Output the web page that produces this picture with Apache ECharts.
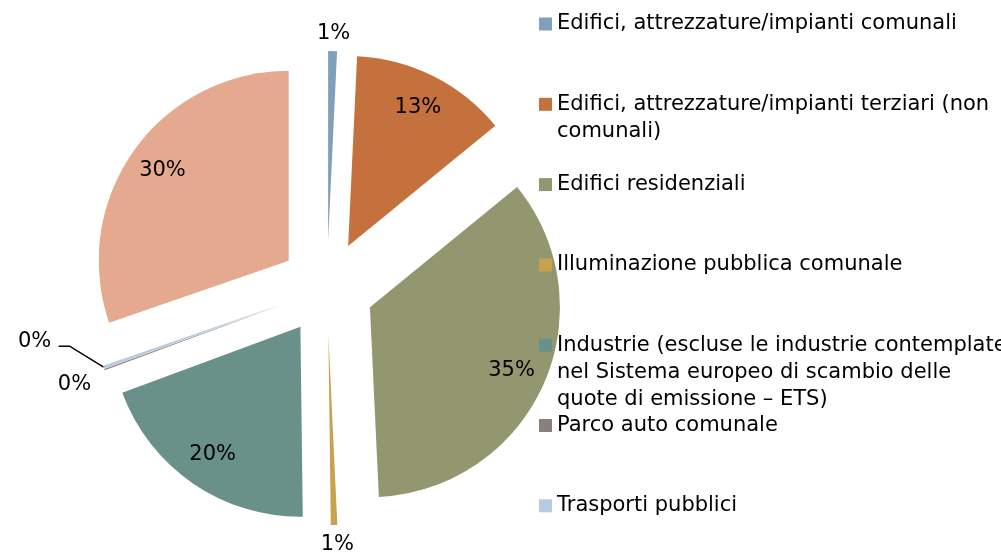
<!DOCTYPE html>
<html>
<head>
<meta charset="utf-8">
<script src="https://cdn.jsdelivr.net/npm/echarts@6/dist/echarts.min.js"></script>
<style>
html, body { margin: 0; padding: 0; background: #fff; }
#chart { width: 1001px; height: 556px; }
</style>
</head>
<body>
<div id="chart"></div>
<script>
// categorie, nell'ordine della torta (senso orario dalle 12)
var categories = [
  'Edifici, attrezzature/impianti comunali',
  'Edifici, attrezzature/impianti terziari (non comunali)',
  'Edifici residenziali',
  'Illuminazione pubblica comunale',
  'Industrie (escluse le industrie contemplate nel Sistema europeo di scambio delle quote di emissione – ETS)',
  'Parco auto comunale',
  'Trasporti pubblici',
  'Trasporti privati e commerciali'
];
// quote (%)
var values = [0.75, 13.35, 35.15, 0.55, 19.55, 0.1, 0.25, 30.3];
var colors = ['#7f9fba', '#c5713e', '#93976f', '#c9a24f', '#6a9189', '#8a7f7d', '#b5cbdf', '#e4a98e'];
// testo legenda con gli a capo dell'originale (l'ultima voce e' tagliata fuori)
var legendText = [
  'Edifici, attrezzature/impianti comunali',
  'Edifici, attrezzature/impianti terziari (non\ncomunali)',
  'Edifici residenziali',
  'Illuminazione pubblica comunale',
  'Industrie (escluse le industrie contemplate\nnel Sistema europeo di scambio delle\nquote di emissione – ETS)',
  'Parco auto comunale',
  'Trasporti pubblici'
];
// quali etichette stanno dentro la fetta
var insideLabel = [false, true, true, false, true, false, false, true];

var FONT = 'DejaVu Sans';
var FS = 21;
var LH = 27;
var R = 190;
var OFFSET = 47;
var CENTER = [327, 288];

function pct(p) {
  return Math.round(p.percent) + '%';
}

// etichette esterne (fette piccole)
var outerCfg = {
  0: { dist: -16, len: 18, len2: 0, line: false },
  3: { dist: -14, len: 20, len2: 0, line: false },
  5: { dist: -27, len: 43, len2: 0, line: false },
  6: { dist: 6, len: 10, len2: 37, line: true }
};

var pieData = categories.map(function (name, i) {
  var item = { name: name, value: values[i], selected: true, itemStyle: { color: colors[i] } };
  var c = outerCfg[i];
  if (c) {
    item.label = { show: true, distanceToLabelLine: c.dist };
    item.labelLine = { show: c.line, length: c.len, length2: c.len2 };
  } else {
    item.label = { show: false };
    item.labelLine = { show: false };
  }
  return item;
});

// serie trasparente solo per le etichette interne (a 0.8 del raggio)
var labelData = categories.map(function (name, i) {
  return {
    name: name,
    value: values[i],
    selected: true,
    itemStyle: { color: 'rgba(0,0,0,0)' },
    label: { show: insideLabel[i] }
  };
});

// una legenda per voce: passo fisso e quadratino sulla prima riga
var legends = legendText.map(function (txt, k) {
  var n = txt.split('\n').length;
  var markerY = 24 + 80.3 * k;
  var shown = new Array(n).join('\n') + txt;
  return {
    left: 539,
    top: markerY - (2 * n - 1) * LH / 2,
    padding: 0,
    orient: 'vertical',
    icon: 'rect',
    itemWidth: 13,
    itemHeight: 13,
    itemGap: 0,
    selectedMode: false,
    formatter: function () { return shown; },
    textStyle: {
      fontFamily: FONT,
      fontSize: FS,
      lineHeight: LH,
      color: '#000'
    },
    data: [categories[k]]
  };
});

var option = {
  animation: false,
  legend: legends,
  series: [
    {
      type: 'pie',
      center: CENTER,
      radius: R,
      startAngle: 90,
      clockwise: true,
      selectedMode: 'multiple',
      selectedOffset: OFFSET,
      avoidLabelOverlap: false,
      itemStyle: { borderWidth: 0 },
      emphasis: { disabled: true },
      label: {
        position: 'outside',
        formatter: pct,
        fontFamily: FONT,
        fontSize: FS,
        color: '#000'
      },
      labelLine: {
        lineStyle: { color: '#000', width: 1.5 }
      },
      labelLayout: function (p) {
        if (p.dataIndex !== 6 || !p.labelLinePoints) return;
        var a = p.labelLinePoints[0];
        var b = [a[0] - 34, a[1] - 21];
        var c = [b[0] - 11, b[1]];
        return {
          dy: -29,
          labelLinePoints: [a, b, c]
        };
      },
      data: pieData
    },
    {
      type: 'pie',
      silent: true,
      legendHoverLink: false,
      center: CENTER,
      radius: R * 1.6,
      startAngle: 90,
      clockwise: true,
      selectedMode: 'multiple',
      selectedOffset: OFFSET,
      avoidLabelOverlap: false,
      itemStyle: { borderWidth: 0 },
      emphasis: { disabled: true },
      label: {
        position: 'inside',
        formatter: pct,
        fontFamily: FONT,
        fontSize: FS,
        color: '#000'
      },
      labelLine: { show: false },
      data: labelData
    }
  ]
};

var chart = echarts.init(document.getElementById('chart'));
chart.setOption(option);
</script>
</body>
</html>
